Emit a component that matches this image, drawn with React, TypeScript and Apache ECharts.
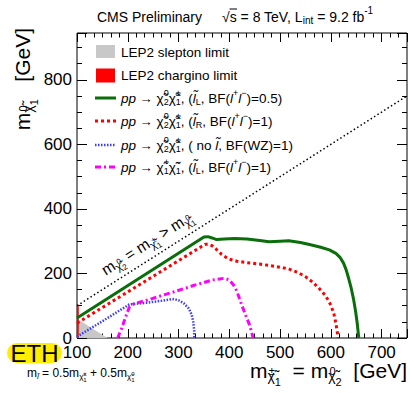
import React, { useEffect, useRef } from 'react';
import * as echarts from 'echarts';

const FONT = '"Liberation Sans", Arial, Helvetica, sans-serif';

// axis ranges / ticks
const X_MIN = 100, X_MAX = 750, X_MAJOR = 100, X_MINOR = 100 / 6;
const Y_MIN = 0, Y_MAX = 945, Y_MAJOR = 200, Y_MINOR = 50;

// kinematic boundary m(chi2) = m(chi1)
const diagonal = [[100, 100], [750, 750]];
// LEP2 limits
const lepSlepton = [[100, 60], [160, 0]];
const lepChargino = [[100, 100], [103.5, 103.5]];

// pp -> chi2 chi1, slepton_L, BF(ll)=0.5 (green)
const greenSlepL = [
  [100, 62], [350, 313], [358, 314], [366, 310], [375, 305], [390, 307], [410, 308], [435, 307],
  [460, 302], [478, 298], [500, 300], [517, 301], [540, 296], [560, 289], [580, 281], [597, 273],
  [610, 262], [618, 250], [625, 232], [630, 212], [635, 185], [640, 155], [645, 118], [649, 80],
  [652, 45], [654, 15], [655, 0],
];
// pp -> chi2 chi1, slepton_R, BF(ll)=1 (red dotted)
const redSlepR = [
  [100, 46], [352, 290], [358, 291], [366, 286], [375, 274], [385, 259], [398, 245], [415, 238],
  [432, 234], [460, 229], [490, 222], [517, 214], [535, 203], [550, 190], [565, 172], [578, 152],
  [590, 130], [600, 102], [606, 75], [610, 45], [613, 15], [614, 0],
];
// pp -> chi2 chi1, no slepton, BF(WZ)=1 (blue dotted)
const blueWZ = [
  [100, 4], [150, 52], [203, 104], [236, 109], [265, 115], [288, 121], [300, 117], [310, 108],
  [320, 92], [326, 72], [329, 50], [331, 20], [331, 0],
];
// pp -> chi1+ chi1-, slepton_L, BF(ll)=1 (magenta dash-dot)
const magentaCharg = [
  [180, 0], [188, 30], [196, 66], [203, 95], [212, 106], [240, 118], [262, 129], [295, 145],
  [328, 162], [350, 172], [367, 180], [390, 185], [400, 180], [408, 165], [415, 145], [425, 100],
  [432, 72], [440, 40], [447, 0],
];

const GREEN = '#0a6e0a';
const RED = '#ff0000';
const BLUE = '#3c3cff';
const MAGENTA = '#ff00ff';

function rich(base: number) {
  const lh = Math.round(base * 2);
  const s1 = Math.round(base * 0.68);
  const s2 = Math.round(base * 0.52);
  const sh = (d: number) => (d >= 0 ? [2 * d, 0, 0, 0] : [0, 0, -2 * d, 0]);
  const mk = (size: number, extra: any = {}) => ({ fontSize: size, fontFamily: FONT, fill: '#000', lineHeight: lh, ...extra });
  return {
    n: mk(base),
    i: mk(base, { fontStyle: 'italic' }),
    sb: mk(s1, { padding: sh(base * 0.3) }),
    sp: mk(s1, { padding: sh(-base * 0.4) }),
    spz: mk(s1, { padding: sh(-base * 0.4), width: 0.01 }),
    c: mk(s1, { padding: sh(base * 0.3) }),
    ci: mk(s1, { padding: sh(base * 0.3), fontStyle: 'italic' }),
    cu: mk(s2, { padding: sh(base * 0.05), width: 0.01 }),
    cd: mk(s2, { padding: sh(base * 0.55) }),
  };
}

const legendLines = [
  '{i|pp} {n|→ χ̃}{spz|0}{sb|2}{n|χ̃}{spz|±}{sb|1}{n|, (}{i|l̃}{sb|L}{n|, BF(}{i|l}{sp|+}{i|l}{sp|−}{n|)=0.5)}',
  '{i|pp} {n|→ χ̃}{spz|0}{sb|2}{n|χ̃}{spz|±}{sb|1}{n|, (}{i|l̃}{sb|R}{n|, BF(}{i|l}{sp|+}{i|l}{sp|−}{n|)=1)}',
  '{i|pp} {n|→ χ̃}{spz|0}{sb|2}{n|χ̃}{spz|±}{sb|1}{n|, ( no }{i|l̃}{n|, BF(WZ)=1)}',
  '{i|pp} {n|→ χ̃}{spz|+}{sb|1}{n|χ̃}{spz|−}{sb|1}{n|, (}{i|l̃}{sb|L}{n|, BF(}{i|l}{sp|+}{i|l}{sp|−}{n|)=1)}',
];

export default function App() {
  const ref = useRef<HTMLDivElement>(null);
  useEffect(() => {
    if (!ref.current) return;
    const chart = echarts.init(ref.current, undefined, { renderer: 'svg' });
    const gridPos = { left: 77, right: 3, top: 33, bottom: 55 };
    const tickX = (len: number) => ({ show: true, inside: true, length: len, lineStyle: { color: '#000', width: 1 } });
    const baseX = (pos: string, grid: number, interval: number, len: number, labels: boolean) => ({
      type: 'value', gridIndex: grid, position: pos, min: X_MIN, max: X_MAX, interval,
      axisLine: { show: false, onZero: false }, axisTick: tickX(len), splitLine: { show: false },
      axisLabel: labels
        ? { show: true, fontSize: 17, color: '#000', fontFamily: FONT, margin: 6,
            formatter: (v: number) => (Math.abs(v % X_MAJOR) < 1e-6 ? String(v) : '') }
        : { show: false },
    });
    const baseY = (pos: string, grid: number, interval: number, len: number, labels: boolean) => ({
      type: 'value', gridIndex: grid, position: pos, min: Y_MIN, max: Y_MAX, interval,
      axisLine: { show: false, onZero: false }, axisTick: tickX(len), splitLine: { show: false },
      axisLabel: labels
        ? { show: true, fontSize: 17, color: '#000', fontFamily: FONT, margin: 5,
            formatter: (v: number) => (Math.abs(v % Y_MAJOR) < 1e-6 ? String(v) : '') }
        : { show: false },
    });
    const lineSeries = (data: number[][], color: string, width: number, type: any, z = 3) => ({
      type: 'line', data, xAxisIndex: 0, yAxisIndex: 0, symbol: 'none', smooth: false, z,
      lineStyle: { color, width, type, cap: 'butt' }, silent: true, clip: true,
    });
    const r13 = rich(13.5);
    const r14 = rich(14);
    const r21 = rich(21);
    const r16 = rich(15.5);
    const r12 = rich(12);
    const legendY = [98, 121, 145, 167];
    const legendStyles = [
      { stroke: GREEN, lineWidth: 3 },
      { stroke: RED, lineWidth: 3, lineDash: [3, 3] },
      { stroke: BLUE, lineWidth: 2.5, lineDash: [1.5, 1.5] },
      { stroke: MAGENTA, lineWidth: 3, lineDash: [6, 3, 2, 3] },
    ];
    const graphics: any[] = [
      { type: 'rect', z: 50, shape: { x: 96, y: 45, width: 19, height: 13 }, style: { fill: '#c8c8c8' } },
      { type: 'rect', z: 50, shape: { x: 96, y: 68.5, width: 19, height: 14 }, style: { fill: RED } },
      { type: 'text', z: 50, x: 121, y: 52, style: { text: '{n|LEP2 slepton limit}', rich: r13, textAlign: 'left', textVerticalAlign: 'middle' } },
      { type: 'text', z: 50, x: 121, y: 75, style: { text: '{n|LEP2 chargino limit}', rich: r13, textAlign: 'left', textVerticalAlign: 'middle' } },
      // header
      { type: 'text', z: 50, x: 97, y: 16.5, style: { text: '{n|CMS Preliminary}', rich: r14, textAlign: 'left', textVerticalAlign: 'middle' } },
      { type: 'text', z: 50, x: 222, y: 16.5, style: { text: '{n|√s = 8 TeV, L}{sb|int}{n| = 9.2 fb}{sp|-1}', rich: r14, textAlign: 'left', textVerticalAlign: 'middle' } },
      { type: 'line', z: 50, shape: { x1: 229.5, y1: 9, x2: 237, y2: 9 }, style: { stroke: '#000', lineWidth: 1 } },
      // axis titles
      { type: 'text', z: 50, x: 407, y: 370, style: { text: '{n|m}{c|χ̃}{cu|±}{cd|1}{n|  = m}{c|χ̃}{cu|0}{cd|2}{n|  [GeV]}', rich: r21, textAlign: 'right', textVerticalAlign: 'middle' } },
      { type: 'text', z: 50, x: 22, y: 28, rotation: Math.PI / 2, style: { text: '{n|m}{c|χ̃}{cu|0}{cd|1}{n|   [GeV]}', rich: r21, textAlign: 'right', textVerticalAlign: 'middle' } },
      // diagonal label
      { type: 'text', z: 50, x: 147, y: 243, rotation: (32.45 * Math.PI) / 180, style: { text: '{n|m}{c|χ̃}{cu|0}{cd|2}{n| = m}{c|χ̃}{cu|±}{cd|1}{n| > m}{c|χ̃}{cu|0}{cd|1}', rich: r16, textAlign: 'center', textVerticalAlign: 'middle' } },
      // ETH logo
      { type: 'rect', z: 60, shape: { x: 7, y: 343, width: 55, height: 20, r: 10 }, style: { fill: '#ffee00' } },
      { type: 'text', z: 61, x: 34.5, y: 353.5, style: { text: 'ETH', fontSize: 24, fontFamily: FONT, fill: '#000', textAlign: 'center', textVerticalAlign: 'middle' } },
      { type: 'text', z: 50, x: 27, y: 373, style: { text: '{n|m}{ci|l̃}{n| = 0.5m}{c|χ̃}{cu|±}{cd|1}{n| + 0.5m}{c|χ̃}{cu|0}{cd|1}', rich: r12, textAlign: 'left', textVerticalAlign: 'middle' } },
    ];
    legendY.forEach((y, k) => {
      graphics.push({ type: 'line', z: 50, shape: { x1: 95, y1: y, x2: 116, y2: y }, style: legendStyles[k] });
      graphics.push({ type: 'text', z: 50, x: 121, y, style: { text: legendLines[k], rich: r13, textAlign: 'left', textVerticalAlign: 'middle' } });
    });

    chart.setOption({
      animation: false,
      backgroundColor: '#fff',
      grid: [
        { ...gridPos, show: true, borderColor: '#000', borderWidth: 1, backgroundColor: 'transparent' },
        { ...gridPos, show: false },
      ],
      xAxis: [
        baseX('bottom', 0, X_MAJOR, 9, true),
        baseX('top', 0, X_MAJOR, 9, false),
        baseX('bottom', 1, X_MINOR, 4.5, false),
        baseX('top', 1, X_MINOR, 4.5, false),
      ],
      yAxis: [
        baseY('left', 0, Y_MAJOR, 10, true),
        baseY('right', 0, Y_MAJOR, 10, false),
        baseY('left', 1, Y_MINOR, 5, false),
        baseY('right', 1, Y_MINOR, 5, false),
      ],
      series: [
        { ...lineSeries(lepSlepton, '#c8c8c8', 0, 'solid', 1), areaStyle: { color: '#c8c8c8', opacity: 1 } },
        { ...lineSeries(lepChargino, RED, 0, 'solid', 1), areaStyle: { color: RED, opacity: 1 } },
        lineSeries(diagonal, '#000', 1.5, [1.5, 2.5]),
        lineSeries(blueWZ, BLUE, 2.5, [1.5, 1.5]),
        lineSeries(magentaCharg, MAGENTA, 3, [6, 3, 2, 3]),
        lineSeries(redSlepR, RED, 3, [3, 3]),
        lineSeries(greenSlepL, GREEN, 3, 'solid'),
      ],
      graphic: graphics,
    });
    return () => chart.dispose();
  }, []);
  return <div ref={ref} style={{ position: 'absolute', left: 0, top: 0, width: 410, height: 393 }} />;
}
